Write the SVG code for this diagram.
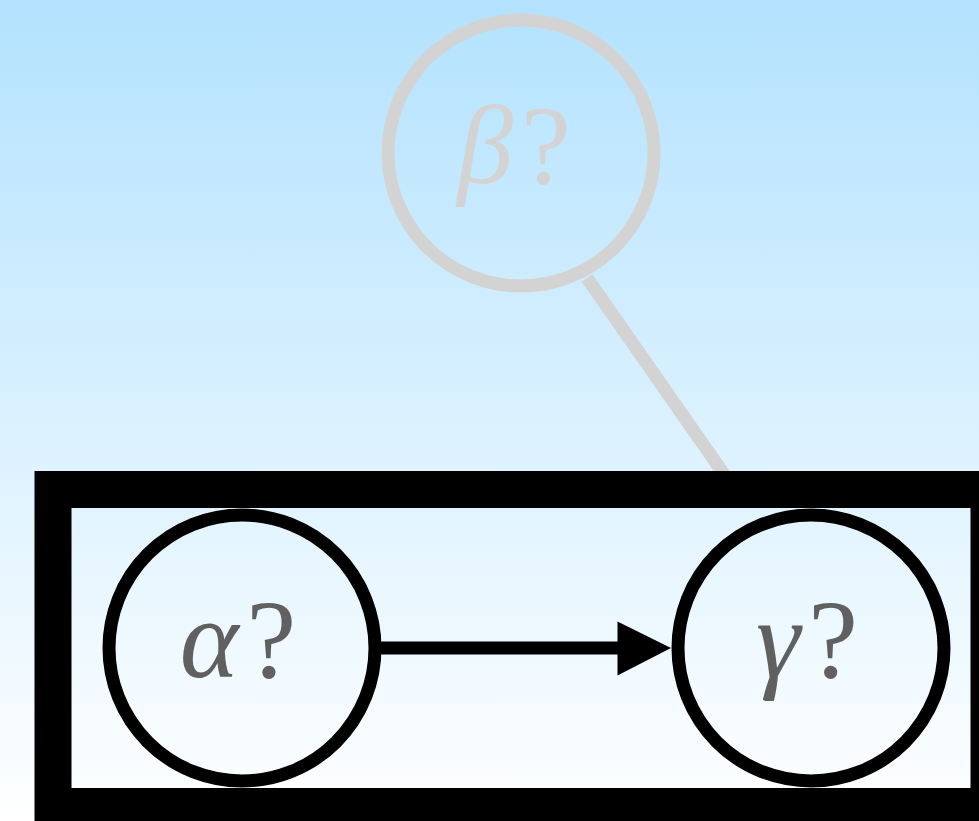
<svg xmlns="http://www.w3.org/2000/svg" width="979" height="821" viewBox="0 0 979 821">
<defs>
<linearGradient id="bg" x1="0" y1="0" x2="0" y2="1">
<stop offset="0" stop-color="#b3e2fe"/>
<stop offset="1" stop-color="#ffffff"/>
</linearGradient>
<style>
.node{fill:none;stroke:#000;stroke-width:13}
.faded{fill:none;stroke:#d3d3d3;stroke-width:13}
.lbl{font-size:112px;fill:#606060;text-anchor:middle}
.lbl-faded{font-size:112px;fill:#d3d3d3;text-anchor:middle}
.it{font-style:italic}
</style>
</defs>
<rect x="0" y="0" width="979" height="821" fill="url(#bg)"/>
<g id="connectors">
<line x1="587" y1="278" x2="735" y2="490" stroke="#d3d3d3" stroke-width="13"/>
<line x1="381" y1="648" x2="622" y2="648" stroke="#000" stroke-width="13"/>
<path d="M617.5,621.5 L671,648 L617.5,675.5 Z" fill="#000"/>
</g>
<g id="cluster">
<rect x="53" y="489.5" width="936" height="317" fill="none" stroke="#000" stroke-width="37"/>
</g>
<g id="node-beta">
<circle class="faded" cx="521" cy="153" r="133"/>
<text class="lbl-faded" font-family="Liberation Serif, serif" x="514" y="183"><tspan class="it">β</tspan><tspan dx="8">?</tspan></text>
</g>
<g id="node-alpha">
<circle class="node" cx="242" cy="648" r="133"/>
<text class="lbl" font-family="Liberation Serif, serif" x="238" y="677"><tspan class="it">α</tspan><tspan dx="8">?</tspan></text>
</g>
<g id="node-gamma">
<circle class="node" cx="811" cy="648" r="133"/>
<text class="lbl" font-family="Liberation Serif, serif" x="807" y="677"><tspan class="it">γ</tspan><tspan dx="8">?</tspan></text>
</g>
</svg>
